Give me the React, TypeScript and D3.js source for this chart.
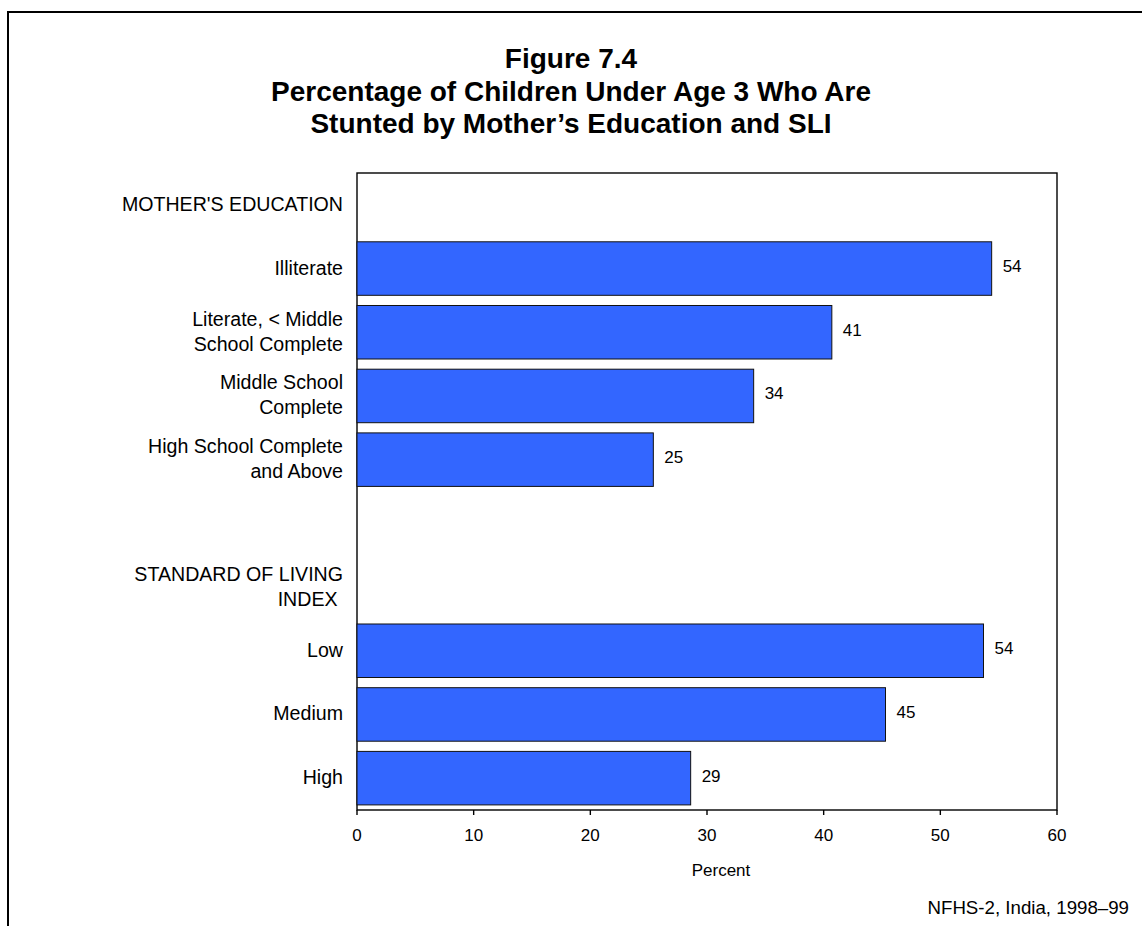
import React from "react";
import * as d3 from "d3";

const titleLines = [
  "Figure 7.4",
  "Percentage of Children Under Age 3 Who Are",
  "Stunted by Mother\u2019s Education and SLI",
];

const educationHeader = ["MOTHER'S EDUCATION"];
const educationCategories = [
  ["Illiterate"],
  ["Literate, < Middle", "School Complete"],
  ["Middle School", "Complete"],
  ["High School Complete", "and Above"],
];
const educationValues = [54.4, 40.7, 34.0, 25.4];

const sliHeader = ["STANDARD OF LIVING", "INDEX\u00a0"];
const sliCategories = [["Low"], ["Medium"], ["High"]];
const sliValues = [53.7, 45.3, 28.6];

const xTicks = [0, 10, 20, 30, 40, 50, 60];
const xAxisTitle = "Percent";
const sourceNote = "NFHS-2, India, 1998\u201399";

type Row = { key: string; lines: string[]; value?: number; header?: boolean };

const rows: Row[] = [
  { key: "h-edu", lines: educationHeader, header: true },
  ...educationCategories.map((lines, i) => ({ key: "edu-" + i, lines, value: educationValues[i] })),
  { key: "gap", lines: [] },
  { key: "h-sli", lines: sliHeader, header: true },
  ...sliCategories.map((lines, i) => ({ key: "sli-" + i, lines, value: sliValues[i] })),
];

const W = 1142;
const H = 926;
const plot = { left: 357, right: 1057, top: 173, bottom: 810 };
const FONT = "Arial, 'Liberation Sans', Helvetica, sans-serif";
const BAR = "#3366FF";

export default function App() {
  const x = d3.scaleLinear().domain([0, 60]).range([plot.left, plot.right]);
  const y = d3
    .scaleBand<string>()
    .domain(rows.map((r) => r.key))
    .range([plot.top, plot.bottom])
    .paddingInner(0.16)
    .paddingOuter(0.08);
  const fmt = d3.format(".0f");
  const lineH = 25;

  return (
    <svg
      width={W}
      height={H}
      style={{ position: "absolute", left: 0, top: 0, background: "#fff" }}
      fontFamily={FONT}
    >
      <rect x={0} y={0} width={W} height={H} fill="#fff" />
      <rect x={8} y={12} width={W + 100} height={H + 100} fill="none" stroke="#000" strokeWidth={2} />

      {titleLines.map((t, i) => (
        <text
          key={i}
          x={W / 2}
          y={68 + i * 32.5}
          textAnchor="middle"
          fontWeight="bold"
          fontSize={28}
          fill="#000"
        >
          {t}
        </text>
      ))}

      {/* plot frame */}
      <rect
        x={plot.left}
        y={plot.top}
        width={plot.right - plot.left}
        height={plot.bottom - plot.top}
        fill="none"
        stroke="#000"
        strokeWidth={1.4}
      />

      {/* bars */}
      {rows
        .filter((r) => r.value !== undefined)
        .map((r) => (
          <g key={r.key}>
            <rect
              x={x(0)}
              y={y(r.key)!}
              width={x(r.value!) - x(0)}
              height={y.bandwidth()}
              fill={BAR}
              stroke="#111"
              strokeWidth={1}
            />
            <text
              x={x(r.value!) + 11}
              y={y(r.key)! + y.bandwidth() / 2 - 2}
              dominantBaseline="central"
              fontSize={17}
              fill="#000"
            >
              {fmt(r.value!)}
            </text>
          </g>
        ))}

      {/* category labels */}
      {rows.map((r) => {
        const cy = (y(r.key) ?? 0) + y.bandwidth() / 2 - 1;
        const n = r.lines.length;
        return r.lines.map((ln, j) => (
          <text
            key={r.key + j}
            x={plot.left - 14}
            y={cy + (j - (n - 1) / 2) * lineH}
            dominantBaseline="central"
            textAnchor="end"
            fontSize={19.6}
            fill="#000"
          >
            {ln}
          </text>
        ));
      })}

      {/* x axis ticks */}
      {xTicks.map((t) => (
        <g key={t}>
          <line x1={x(t)} x2={x(t)} y1={plot.bottom} y2={plot.bottom + 5} stroke="#000" strokeWidth={1.4} />
          <text x={x(t)} y={841} textAnchor="middle" fontSize={17} fill="#000">
            {t}
          </text>
        </g>
      ))}

      <text x={721} y={876} textAnchor="middle" fontSize={17} fill="#000">
        {xAxisTitle}
      </text>

      <text x={1129} y={914} textAnchor="end" fontSize={18.7} fill="#000">
        {sourceNote}
      </text>
    </svg>
  );
}
